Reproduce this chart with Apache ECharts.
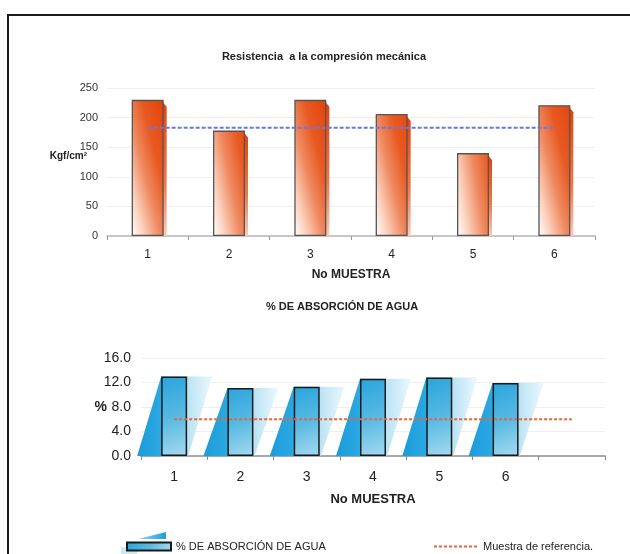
<!DOCTYPE html>
<html>
<head>
<meta charset="utf-8">
<script src="https://cdn.jsdelivr.net/npm/echarts@6/dist/echarts.min.js"></script>
<style>
html,body{margin:0;padding:0;background:#fff;}
#chart{width:630px;height:554px;}
</style>
</head>
<body>
<div id="chart"></div>
<script>
// ---- Data ----
const categories1 = ['1', '2', '3', '4', '5', '6'];
const resistencia = [230, 178, 230, 206, 140, 221];
const referencia1 = [183, 183, 183, 183, 183, 183];
const yTicks1 = [0, 50, 100, 150, 200, 250];

const categories2 = ['1', '2', '3', '4', '5', '6', ''];
const absorcion = [13.0, 11.1, 11.3, 12.6, 12.8, 11.9, '-'];
const referencia2 = [6.0, 6.0, 6.0, 6.0, 6.0, 6.0, 6.0];
const yTicks2 = [0, 4, 8, 12, 16];

const title1 = 'Resistencia  a la compresión mecánica';
const title2 = '% DE ABSORCIÓN DE AGUA';
const xName = 'No MUESTRA';
const yName1 = 'Kgf/cm²';
const yName2 = '%';
const seriesBarName = '% DE ABSORCIÓN DE AGUA';
const seriesRefName = 'Muestra de referencia.';

// ---- Chart ----
const FONT = '"Liberation Sans", Arial, sans-serif';
const chart = echarts.init(document.getElementById('chart'), null, {renderer: 'canvas'});

const pairs1 = resistencia.map((v, i) => [i, v]);
const pairs2 = absorcion.map((v, i) => [i, v]).filter(p => p[1] !== '-');

const option = {
  backgroundColor: '#fff',
  animation: false,
  textStyle: {fontFamily: FONT},
  graphic: [
    {type: 'rect', shape: {x: 8, y: 15, width: 700, height: 600}, style: {fill: 'none', stroke: '#1a1a1a', lineWidth: 2}, z: 100},
    {type: 'text', x: 324, y: 57, style: {text: title1, align: 'center', verticalAlign: 'middle', fontFamily: FONT, fontWeight: 'bold', fontSize: 11, fill: '#222'}},
    {type: 'text', x: 342, y: 307, style: {text: title2, align: 'center', verticalAlign: 'middle', fontFamily: FONT, fontWeight: 'bold', fontSize: 11, fill: '#222'}},
    {type: 'text', x: 87, y: 156, style: {text: yName1, align: 'right', verticalAlign: 'middle', fontFamily: FONT, fontWeight: 'bold', fontSize: 10, fill: '#222'}},
    {type: 'polygon', shape: {points: [[138, 539], [166, 532], [166, 539]]}, style: {fill: {type: 'linear', x: 0, y: 0, x2: 1, y2: 0, colorStops: [{offset: 0, color: '#8fd3ef'}, {offset: 1, color: '#1e9fdc'}]}}, z: 1},
    {type: 'polygon', shape: {points: [[121, 547], [140, 547], [136, 556], [121, 556]]}, style: {fill: '#c9eaf6'}, z: 1}
  ],
  grid: [
    {left: 107, top: 88, width: 488, height: 148},
    {left: 141, top: 358, width: 464, height: 98}
  ],
  xAxis: [
    {
      gridIndex: 0, type: 'category', data: categories1,
      axisLine: {lineStyle: {color: '#b8b8b8', width: 1.5}},
      axisTick: {show: true, length: 4, lineStyle: {color: '#999'}},
      axisLabel: {margin: 13, fontSize: 12, color: '#222', fontFamily: FONT},
      name: xName, nameLocation: 'middle', nameGap: 33,
      nameTextStyle: {fontWeight: 'bold', fontSize: 12, color: '#222', fontFamily: FONT}
    },
    {
      gridIndex: 1, type: 'category', data: categories2,
      axisLine: {lineStyle: {color: '#a8a8a8', width: 2}},
      axisTick: {show: true, length: 4, lineStyle: {color: '#888'}},
      axisLabel: {margin: 14, fontSize: 14, color: '#222', fontFamily: FONT},
      name: xName, nameLocation: 'middle', nameGap: 37,
      nameTextStyle: {fontWeight: 'bold', fontSize: 13, color: '#222', fontFamily: FONT}
    }
  ],
  yAxis: [
    {
      gridIndex: 0, type: 'value', min: yTicks1[0], max: yTicks1[yTicks1.length - 1], interval: 50,
      axisLine: {show: false}, axisTick: {show: false},
      axisLabel: {margin: 9, fontSize: 11, color: '#333', fontFamily: FONT},
      splitLine: {lineStyle: {color: '#eeeeee'}}
    },
    {
      gridIndex: 1, type: 'value', min: yTicks2[0], max: yTicks2[yTicks2.length - 1], interval: 4,
      axisLine: {show: false}, axisTick: {show: false},
      axisLabel: {margin: 10, fontSize: 14, color: '#222', fontFamily: FONT, formatter: v => v.toFixed(1)},
      splitLine: {lineStyle: {color: '#eeeeee'}},
      name: yName2, nameLocation: 'middle', nameRotate: 0, nameGap: 34, nameMoveOverlap: false,
      nameTextStyle: {fontWeight: 'bold', fontSize: 14, color: '#222', fontFamily: FONT}
    }
  ],
  legend: [
    {
      left: 121, top: 536, itemWidth: 44, itemHeight: 8, icon: 'rect',
      data: [seriesBarName],
      textStyle: {fontSize: 11, color: '#222', fontFamily: FONT}
    },
    {
      left: 428, top: 536, itemWidth: 44, itemHeight: 8,
      data: [seriesRefName],
      itemStyle: {opacity: 0},
      textStyle: {fontSize: 11, color: '#222', fontFamily: FONT}
    }
  ],
  series: [
    // Chart 1: side faces of bars
    {
      type: 'custom', xAxisIndex: 0, yAxisIndex: 0, z: 1, silent: true,
      data: pairs1, encode: {x: 0, y: 1},
      renderItem: function (params, api) {
        const top = api.coord([api.value(0), api.value(1)]);
        const base = api.coord([api.value(0), 0]);
        const r = top[0] + 15;
        return {
          type: 'polygon',
          shape: {points: [[r, top[1] + 2], [r + 4, top[1] + 7], [r + 4, base[1]], [r, base[1]]]},
          style: {fill: {type: 'linear', x: 0, y: 0, x2: 0, y2: 1, colorStops: [{offset: 0, color: '#e2420c'}, {offset: 0.6, color: '#ec7a4c'}, {offset: 1, color: '#f8cbb8'}]}}
        };
      }
    },
    {
      name: 'Resistencia', type: 'bar', xAxisIndex: 0, yAxisIndex: 0, z: 2,
      data: resistencia, barWidth: 32,
      itemStyle: {
        borderColor: '#555', borderWidth: 1.3,
        color: {type: 'linear', x: 0, y: 1, x2: 1.88, y2: 0.885, colorStops: [
          {offset: 0, color: '#ffffff'}, {offset: 0.2, color: '#fbd0bc'},
          {offset: 0.45, color: '#f08a60'}, {offset: 0.7, color: '#e85a22'}, {offset: 1, color: '#e4460c'}]}
      }
    },
    {
      name: 'Referencia1', type: 'line', xAxisIndex: 0, yAxisIndex: 0, z: 3,
      data: referencia1, symbol: 'none',
      lineStyle: {color: '#6a76e2', width: 2, type: [4, 2]}
    },
    // Chart 2: slanted 3D shapes behind bars
    {
      type: 'custom', xAxisIndex: 1, yAxisIndex: 1, z: 1, silent: true,
      data: pairs2, encode: {x: 0, y: 1},
      renderItem: function (params, api) {
        const top = api.coord([api.value(0), api.value(1)]);
        const base = api.coord([api.value(0), 0]);
        const c = top[0];
        return {
          type: 'polygon',
          shape: {points: [[c - 13, top[1]], [c + 38, top[1]], [c + 14, base[1]], [c - 37, base[1]]]},
          style: {fill: {type: 'linear', x: 0, y: 0, x2: 1, y2: 0, colorStops: [
            {offset: 0, color: '#1a9cdb'}, {offset: 0.32, color: '#2ca8e1'},
            {offset: 0.66, color: '#b8e2f4'}, {offset: 1, color: '#ecf8fc'}]}}
        };
      }
    },
    {
      name: seriesBarName, type: 'bar', xAxisIndex: 1, yAxisIndex: 1, z: 2,
      data: absorcion, barWidth: 26,
      itemStyle: {
        borderColor: '#1a1a1a', borderWidth: 1.5,
        color: {type: 'linear', x: 0, y: 0, x2: 1, y2: 1, colorStops: [
          {offset: 0, color: '#2aa5dc'}, {offset: 0.5, color: '#56b9e3'}, {offset: 1, color: '#a6daef'}]}
      }
    },
    {
      name: seriesRefName, type: 'line', xAxisIndex: 1, yAxisIndex: 1, z: 3,
      data: referencia2, symbol: 'none',
      lineStyle: {color: '#e8643c', width: 2, type: [3, 2]}
    }
  ]
};
chart.setOption(option);
</script>
</body>
</html>
